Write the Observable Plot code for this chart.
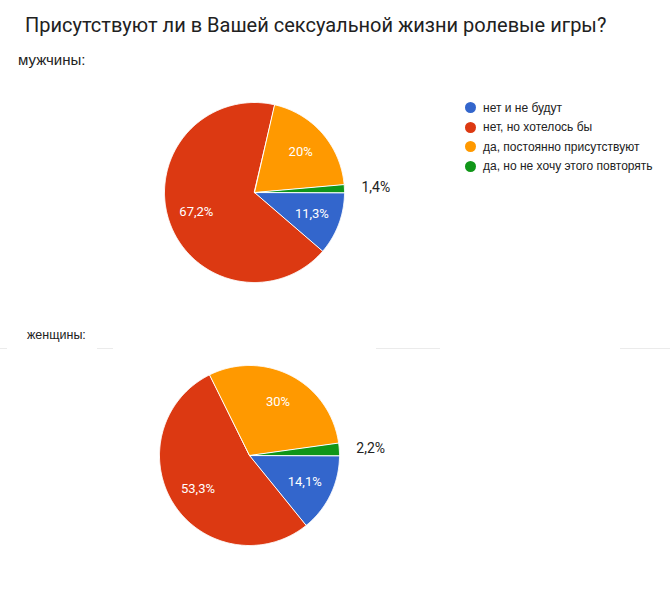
<!DOCTYPE html>
<html>
<head>
<meta charset="utf-8">
<script src="https://cdn.jsdelivr.net/npm/d3@7"></script>
<script src="https://cdn.jsdelivr.net/npm/@observablehq/plot@0.6"></script>
<style>
  html, body { margin: 0; padding: 0; background: #fff; }
  #page { position: relative; width: 670px; height: 590px; overflow: hidden; font-family: Arial, "Liberation Sans", sans-serif; }
  .abs { position: absolute; }
  #title { left: 25px; top: 15px; font: 20px/20px Roboto, sans-serif; color: #212121; white-space: nowrap; }
  #lab1 { left: 18px; top: 52px; font: 15px/15px Arial, "Liberation Sans", sans-serif; color: #222; }
  #lab2 { left: 27px; top: 329px; font: 12.5px/12.5px Arial, "Liberation Sans", sans-serif; color: #222; }
  .rule { position: absolute; top: 348px; height: 1px; background: #ebebeb; }
  #legend { left: 465px; top: 98px; }
  .row { display: flex; align-items: center; height: 19.5px; font: 12px Arial, "Liberation Sans", sans-serif; color: #222; white-space: nowrap; }
  .sw { width: 11px; height: 11px; border-radius: 50%; margin-right: 7px; flex: none; }
</style>
</head>
<body>
<div id="page">
  <div id="title" class="abs"></div>
  <div id="lab1" class="abs"></div>
  <div id="lab2" class="abs"></div>
  <div class="rule" style="left:0;width:7px"></div>
  <div class="rule" style="left:97px;width:16px"></div>
  <div class="rule" style="left:376px;width:64px"></div>
  <div class="rule" style="left:620px;width:50px"></div>
  <div id="legend" class="abs"></div>
  <div id="pie1" class="abs" style="left:0;top:67px"></div>
  <div id="pie2" class="abs" style="left:0;top:355px"></div>
</div>
<script>
const titleText = "Присутствуют ли в Вашей сексуальной жизни ролевые игры?";
const groupLabels = ["мужчины:", "женщины:"];
const categories = ["нет и не будут", "нет, но хотелось бы", "да, постоянно присутствуют", "да, но не хочу этого повторять"];
const colors = ["#3366cc", "#dc3912", "#ff9900", "#109618"];
const menValues = [11.3, 67.2, 20, 1.4];
const womenValues = [14.1, 53.3, 30, 2.2];

document.getElementById("title").textContent = titleText;
document.getElementById("lab1").textContent = groupLabels[0];
document.getElementById("lab2").textContent = groupLabels[1];

const legend = document.getElementById("legend");
categories.forEach((c, i) => {
  const row = document.createElement("div");
  row.className = "row";
  const sw = document.createElement("span");
  sw.className = "sw";
  sw.style.background = colors[i];
  const t = document.createElement("span");
  t.textContent = c;
  row.appendChild(sw); row.appendChild(t);
  legend.appendChild(row);
});

const fmt = v => (Number.isInteger(v) ? String(v) : v.toFixed(1).replace(".", ",")) + "%";

function pieChart(values, opts) {
  const data = categories.map((c, i) => ({cat: c, value: values[i]}));
  const arcs = d3.pie().sort(null).value(d => d.value)
    .startAngle(Math.PI / 2).endAngle(Math.PI / 2 + 2 * Math.PI)(data);
  const total = d3.sum(values);
  const pts = [];
  const labels = [];
  arcs.forEach(a => {
    const n = Math.max(2, Math.ceil((a.endAngle - a.startAngle) / 0.01));
    pts.push({cat: a.data.cat, x: 0, y: 0});
    for (let k = 0; k <= n; k++) {
      const t = a.startAngle + (a.endAngle - a.startAngle) * k / n;
      pts.push({cat: a.data.cat, x: Math.sin(t), y: Math.cos(t)});
    }
    const mid = (a.startAngle + a.endAngle) / 2;
    const small = a.data.value / total < 0.05;
    const r = small ? 1.19 : 0.68;
    labels.push({cat: a.data.cat, text: fmt(a.data.value), x: r * Math.sin(mid), y: r * Math.cos(mid), outside: small});
  });
  return Plot.plot({
    width: 670,
    height: opts.height,
    marginLeft: opts.ml, marginRight: opts.mr, marginTop: opts.mt, marginBottom: opts.mb,
    x: {domain: [-1, 1], axis: null},
    y: {domain: [-1, 1], axis: null},
    color: {domain: categories, range: colors},
    style: {background: "transparent", overflow: "visible"},
    marks: [
      Plot.line(pts, {x: "x", y: "y", z: "cat", fill: "cat", stroke: "#fff", strokeWidth: 1, curve: "linear-closed"}),
      Plot.text(labels.filter(d => !d.outside), {x: "x", y: "y", text: "text", fill: "#fff", fontSize: 13, fontFamily: "Roboto, sans-serif"}),
      Plot.text(labels.filter(d => d.outside), {x: "x", y: "y", text: "text", fill: "#222", fontSize: 14, fontFamily: "Roboto, sans-serif", textAnchor: "start"})
    ]
  });
}

document.getElementById("pie1").appendChild(pieChart(menValues, {height: 250, ml: 164, mr: 326, mt: 35, mb: 35}));
document.getElementById("pie2").appendChild(pieChart(womenValues, {height: 200, ml: 159, mr: 331, mt: 10, mb: 10}));
</script>
</body>
</html>
